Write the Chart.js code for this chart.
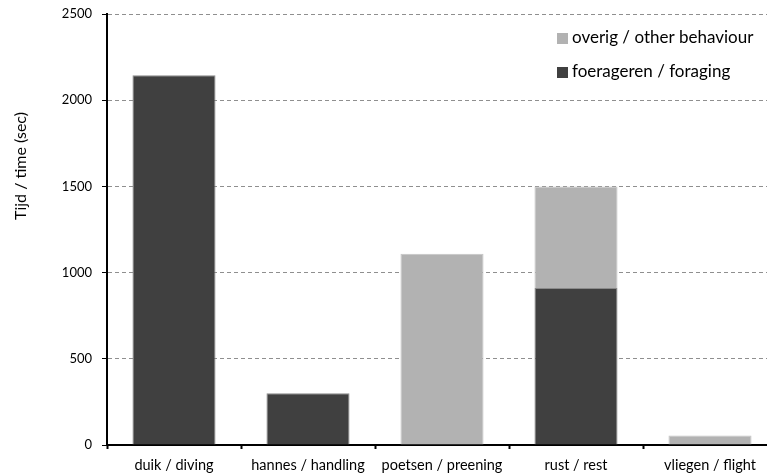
<!DOCTYPE html>
<html>
<head>
<meta charset="utf-8">
<script src="https://cdn.jsdelivr.net/npm/chart.js@4/dist/chart.umd.min.js"></script>
<style>
  html, body { margin: 0; padding: 0; background: #fff; overflow: hidden; width: 767px; height: 476px; }
  #wrap { position: relative; width: 800px; height: 476px; }
</style>
</head>
<body>
<div id="wrap"><canvas id="c"></canvas></div>
<script>
// Time budget per behaviour, split into foraging and other behaviour
const categories = ['duik / diving', 'hannes / handling', 'poetsen / preening', 'rust / rest', 'vliegen / flight'];
const foraging = [2145, 300, null, 910, null];
const other = [null, null, 1110, 590, 55];
const yTicks = [0, 500, 1000, 1500, 2000, 2500];
const yTitle = 'Tijd / time (sec)';
const legendItems = ['overig / other behaviour', 'foerageren / foraging'];

const DARK = '#404040';
const LIGHT = '#b2b2b2';
const FONT = 'Lato, "Open Sans", sans-serif';

// Legend and rotated axis title drawn on the canvas
const annotations = {
  id: 'annotations',
  afterDraw(chart) {
    const ctx = chart.ctx;
    ctx.save();
    // legend, stacked top-down in reverse series order
    const colors = [LIGHT, DARK];
    const ys = [38, 72];
    ctx.font = '17px ' + FONT;
    ctx.textBaseline = 'middle';
    ctx.textAlign = 'left';
    legendItems.forEach((t, i) => {
      ctx.fillStyle = colors[i];
      ctx.fillRect(557, ys[i] - 5, 11, 11);
      ctx.fillStyle = '#000';
      ctx.fillText(t, 572, ys[i]);
    });
    // y axis title
    ctx.translate(21, 166);
    ctx.rotate(-Math.PI / 2);
    ctx.textAlign = 'center';
    ctx.font = '16px ' + FONT;
    ctx.fillText(yTitle, 0, 0);
    ctx.restore();
  }
};

new Chart(document.getElementById('c'), {
  type: 'bar',
  data: {
    labels: categories,
    datasets: [
      { label: legendItems[1], data: foraging, backgroundColor: DARK, borderColor: '#8a8a8a', borderWidth: 1,
        categoryPercentage: 1, barPercentage: 0.62 },
      { label: legendItems[0], data: other, backgroundColor: LIGHT, borderColor: '#c4c4c4', borderWidth: 1,
        categoryPercentage: 1, barPercentage: 0.62 }
    ]
  },
  options: {
    responsive: true,
    maintainAspectRatio: false,
    animation: false,
    layout: { padding: { left: 0, right: 23, top: 14, bottom: 0 } },
    plugins: { legend: { display: false }, tooltip: { enabled: false } },
    scales: {
      x: {
        stacked: true,
        afterFit: s => { s.height = 31; s.paddingLeft = 0; s.paddingRight = 0; },
        grid: { drawOnChartArea: false, drawTicks: true, tickLength: 4, tickColor: '#000', tickWidth: 2 },
        border: { color: '#000', width: 2 },
        ticks: { color: '#000', font: { family: FONT, size: 14.5 }, padding: 8, maxRotation: 0, autoSkip: false }
      },
      y: {
        stacked: true,
        min: 0, max: 2500,
        afterFit: s => { s.width = 107; s.paddingTop = 0; s.paddingBottom = 0; },
        afterBuildTicks: s => { s.ticks = yTicks.map(v => ({ value: v })); },
        grid: { color: '#8f8f8f', lineWidth: 1, tickColor: '#000', tickLength: 5, tickWidth: 1, tickBorderDash: [] },
        border: { color: '#000', width: 2, dash: [4, 3] },
        ticks: { color: '#000', font: { family: FONT, size: 13 }, padding: 10, callback: v => String(v) }
      }
    }
  },
  plugins: [annotations]
});
</script>
</body>
</html>
